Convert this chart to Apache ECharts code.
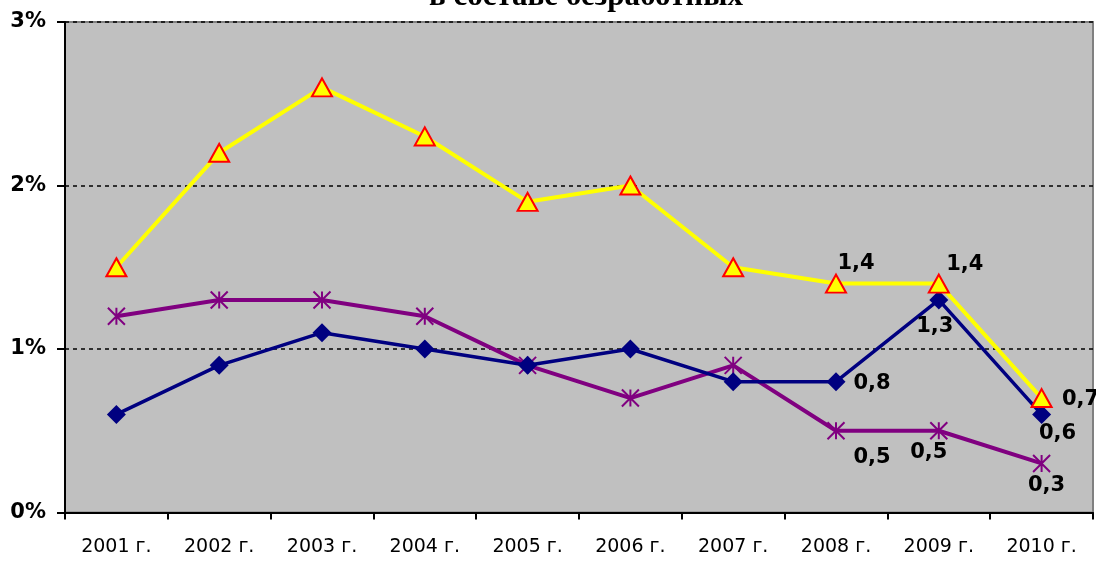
<!DOCTYPE html>
<html>
<head>
<meta charset="utf-8">
<script src="https://cdn.jsdelivr.net/npm/echarts@6/dist/echarts.min.js"></script>
<style>
  html, body { margin: 0; padding: 0; background: #fff; }
  #chart { width: 1096px; height: 561px; }
</style>
</head>
<body>
<div id="chart"></div>
<script>
// годы
const years = ['2001 г.', '2002 г.', '2003 г.', '2004 г.', '2005 г.', '2006 г.', '2007 г.', '2008 г.', '2009 г.', '2010 г.']
// три ряда, %
const yellowVals = [1.5, 2.2, 2.6, 2.3, 1.9, 2.0, 1.5, 1.4, 1.4, 0.7]
const navyVals = [0.6, 0.9, 1.1, 1.0, 0.9, 1.0, 0.8, 0.8, 1.3, 0.6]
const purpleVals = [1.2, 1.3, 1.3, 1.2, 0.9, 0.7, 0.9, 0.5, 0.5, 0.3]
const yTicks = [0, 1, 2, 3]

// подписи только у последних точек: индекс -> смещение
const yellowLabels = {7: [20, -20], 8: [26, -19], 9: [39, 1]}
const navyLabels = {7: [36, 2], 8: [-4, 27], 9: [16, 19]}
const purpleLabels = {7: [36, 27], 8: [-10, 22], 9: [5, 22]}

const labelFont = {
  fontFamily: 'DejaVu Sans',
  fontWeight: 'bold',
  fontSize: 21,
  color: '#000'
}

function withLabels(vals, offsets) {
  return vals.map((v, i) => {
    if (!offsets[i]) return v
    return {
      value: v,
      label: Object.assign({
        show: true,
        position: 'inside',
        offset: offsets[i],
        formatter: p => String(p.value).replace('.', ',')
      }, labelFont)
    }
  })
}

const chart = echarts.init(document.getElementById('chart'))
chart.setOption({
  animation: false,
  title: {
    text: 'в составе безработных',
    left: 424,
    top: -24,
    textStyle: {
      fontFamily: 'Liberation Serif, Times New Roman',
      fontWeight: 'bold',
      fontSize: 31,
      color: '#000'
    }
  },
  grid: {
    left: 65,
    right: 3,
    top: 22,
    bottom: 48.5,
    show: true,
    backgroundColor: '#c0c0c0',
    borderColor: '#808080',
    borderWidth: 2
  },
  xAxis: {
    type: 'category',
    data: years,
    boundaryGap: true,
    axisLine: { lineStyle: { color: '#000', width: 2 } },
    axisTick: { show: true, length: 7, lineStyle: { color: '#000', width: 2 } },
    axisLabel: {
      margin: 25,
      fontFamily: 'DejaVu Sans',
      fontSize: 19,
      color: '#000'
    },
    splitLine: { show: false }
  },
  yAxis: {
    type: 'value',
    min: yTicks[0],
    max: yTicks[yTicks.length - 1],
    interval: 1,
    axisLine: { show: true, lineStyle: { color: '#000', width: 2 } },
    axisTick: { show: true, length: 8, lineStyle: { color: '#000', width: 2 } },
    axisLabel: Object.assign({ margin: 19, formatter: '{value}%' }, labelFont),
    splitLine: { show: true, lineStyle: { color: '#000', width: 1.5, type: [4, 4] } }
  },
  series: [
    {
      name: 'purple',
      type: 'line',
      data: withLabels(purpleVals, purpleLabels),
      symbol: 'path://M8,0 L8,16 M0,0 L16,16 M0,16 L16,0',
      symbolSize: 17,
      lineStyle: { color: '#800080', width: 4 },
      itemStyle: { color: '#800080', borderColor: '#800080', borderWidth: 2 },
      z: 2
    },
    {
      name: 'navy',
      type: 'line',
      data: withLabels(navyVals, navyLabels),
      symbol: 'diamond',
      symbolSize: 19,
      lineStyle: { color: '#000080', width: 3.5 },
      itemStyle: { color: '#000080', borderWidth: 0 },
      z: 3
    },
    {
      name: 'yellow',
      type: 'line',
      data: withLabels(yellowVals, yellowLabels),
      symbol: 'triangle',
      symbolSize: [20, 18],
      lineStyle: { color: '#ffff00', width: 4 },
      itemStyle: { color: '#ffff00', borderColor: '#ff0000', borderWidth: 2 },
      z: 4
    }
  ]
})
</script>
</body>
</html>
